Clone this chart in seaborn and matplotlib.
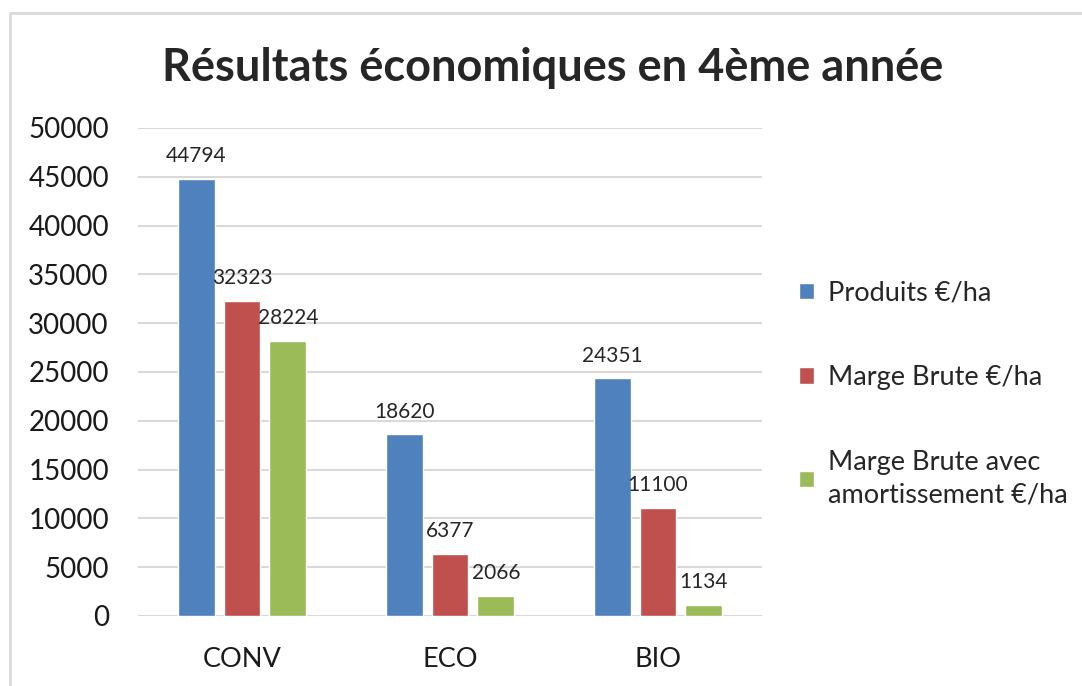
import pandas as pd
import seaborn as sns
import matplotlib.pyplot as plt
from matplotlib.patches import Rectangle

# Data
systemes = ['CONV', 'ECO', 'BIO']
produits = [44794, 18620, 24351]
marge_brute = [32323, 6377, 11100]
marge_amort = [28224, 2066, 1134]
indicateurs = ['Produits €/ha', 'Marge Brute €/ha', 'Marge Brute avec amortissement €/ha']
couleurs = ['#4F81BD', '#C0504D', '#9BBB59']
yticks = list(range(0, 50001, 5000))

sns.set_style('white')
plt.rcParams['font.family'] = ['Lato', 'DejaVu Sans']

df = pd.DataFrame({
    'systeme': systemes * 3,
    'indicateur': [indicateurs[0]] * 3 + [indicateurs[1]] * 3 + [indicateurs[2]] * 3,
    'valeur': produits + marge_brute + marge_amort,
})

fig = plt.figure(figsize=(10.82, 6.86), dpi=100)
ax = fig.add_axes([138 / 1082, 1 - 616 / 686, 624 / 1082, 488 / 686])

sns.barplot(data=df, x='systeme', y='valeur', hue='indicateur', order=systemes,
            hue_order=indicateurs, palette=couleurs, saturation=1, errorbar=None,
            width=0.66, gap=0.2, ax=ax)

for cont in ax.containers:
    ax.bar_label(cont, fmt='%.0f', padding=9, fontsize=15, color='#262626')

ax.set_ylim(0, 50000)
ax.set_xlim(-0.5, 2.5)
ax.set_yticks(yticks)
ax.yaxis.grid(True, color='#D9D9D9', linewidth=1.5)
ax.set_axisbelow(True)
for s in ax.spines.values():
    s.set_visible(False)
ax.tick_params(axis='y', length=0, pad=21, labelsize=20, labelcolor='#1a1a1a')
ax.tick_params(axis='x', length=0, pad=22, labelsize=19.5, labelcolor='#1a1a1a')
ax.set_xlabel('')
ax.set_ylabel('')

# legend on the right, last label on two lines
handles, labels = ax.get_legend_handles_labels()
labels = [indicateurs[0], indicateurs[1], 'Marge Brute avec\namortissement €/ha']
leg = ax.legend(handles, labels, loc='center left', bbox_to_anchor=(775 / 1082, 1 - 394 / 686),
                bbox_transform=fig.transFigure, frameon=False, fontsize=19.5,
                handlelength=0.55, handleheight=0.55, handletextpad=0.5, labelspacing=2.2)
for t in leg.get_texts():
    t.set_linespacing(1.4)

fig.suptitle('Résultats économiques en 4ème année', x=553 / 1082, y=1 - 68 / 686,
             va='center', fontsize=32.5, fontweight='bold')

# chart border (partly outside the image)
fig.patches.append(Rectangle((10 / 1082, -0.1), 1.2, 1.1 - 13 / 686, transform=fig.transFigure,
                             fill=False, edgecolor='#D9D9D9', linewidth=2))

fig.savefig('out.png', dpi=100)
